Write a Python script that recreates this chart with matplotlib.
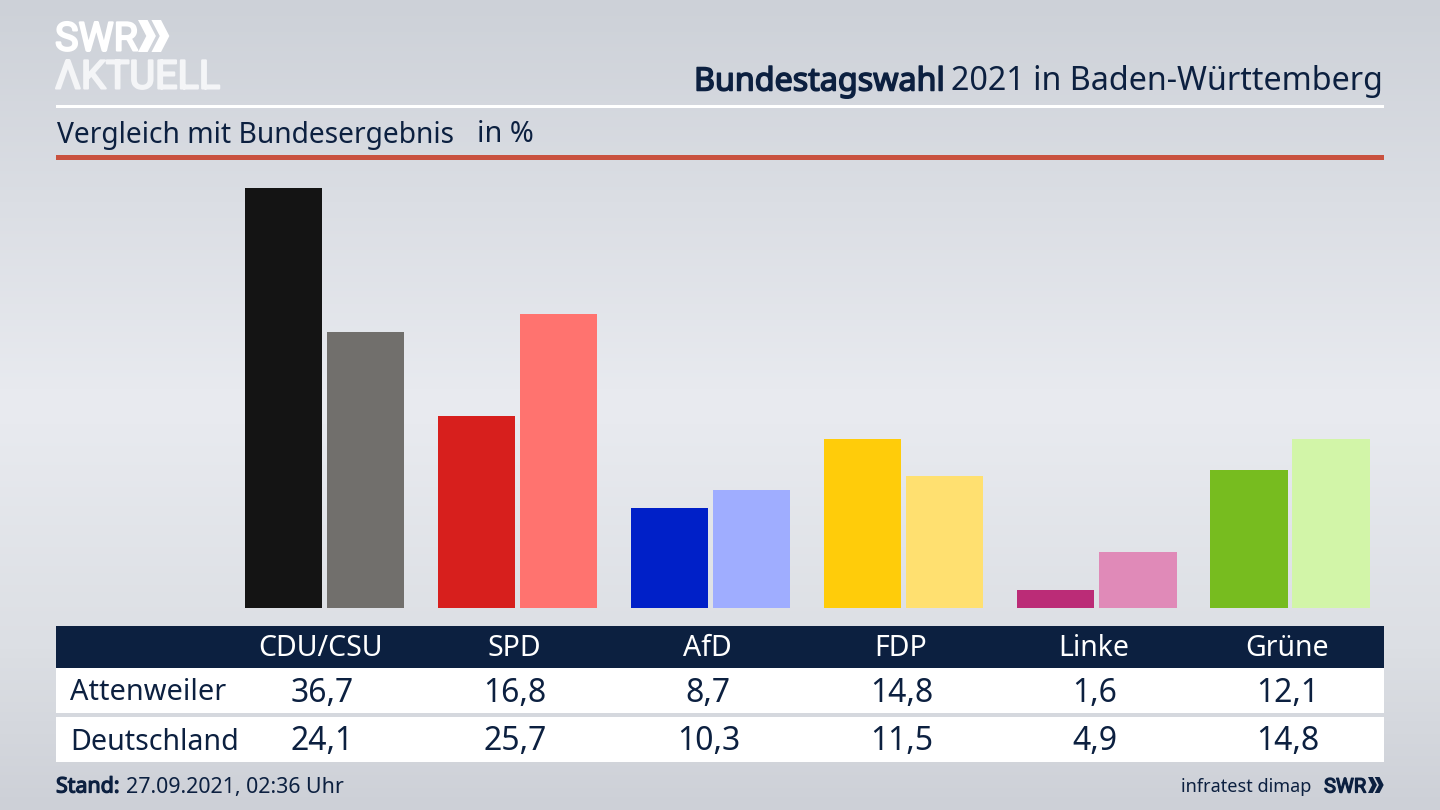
#!/usr/bin/env python3
# -*- coding: utf-8 -*-
import numpy as np
import matplotlib
matplotlib.use("Agg")
import matplotlib.pyplot as plt
import matplotlib.patheffects as pe
from matplotlib.colors import LinearSegmentedColormap
from matplotlib.patches import Polygon, Rectangle

plt.rcParams["font.family"] = ["Noto Sans", "DejaVu Sans"]

parties = ["CDU/CSU", "SPD", "AfD", "FDP", "Linke", "Grüne"]
attenweiler = [36.7, 16.8, 8.7, 14.8, 1.6, 12.1]
deutschland = [24.1, 25.7, 10.3, 11.5, 4.9, 14.8]
colors_local = ["#141414", "#d71f1d", "#0020c8", "#ffcc0a", "#bb2c77", "#77bc1f"]
colors_national = ["#716f6c", "#ff736f", "#9fadff", "#ffe070", "#e08ab8", "#d2f5a8"]

NAVY = "#0c2040"


def comma(v):
    return f"{v:.1f}".replace(".", ",")


def fat(width, color):
    # the installed Noto Sans has no bold cut, so thicken with a stroke
    return [pe.withStroke(linewidth=width, foreground=color)]


def chevrons(ax, x, y, h, color):
    """Two arrow heads of the SWR logo, x/y = top left in pixels."""
    w = h * 0.56
    t = h * 0.3
    for dx in (0, h * 0.42):
        ax.add_patch(Polygon(
            [(x + dx, y), (x + dx + t, y), (x + dx + w, y + h / 2),
             (x + dx + t, y + h), (x + dx, y + h), (x + dx + w - t, y + h / 2)],
            closed=True, color=color, lw=0, zorder=5))


fig = plt.figure(figsize=(14.4, 8.1), dpi=100)

# Background gradient
bg = fig.add_axes([0, 0, 1, 1], zorder=0)
cmap = LinearSegmentedColormap.from_list(
    "bg", [(0, "#cdd1d8"), (0.5, "#e9ebf0"), (0.8, "#dcdfe4"), (1, "#cdd0d7")])
bg.imshow(np.linspace(0, 1, 256).reshape(-1, 1), aspect="auto", cmap=cmap,
          extent=[0, 1440, 810, 0], vmin=0, vmax=1)
bg.set_xlim(0, 1440)
bg.set_ylim(810, 0)
bg.axis("off")

# Header
bg.add_patch(Rectangle((56, 105), 1328, 3, color="white", lw=0))
bg.add_patch(Rectangle((56, 155), 1328, 5, color="#c9513f", lw=0))
bg.text(1383, 82, "2021 in Baden-Württemberg", ha="right", va="center",
        fontsize=23.2, color=NAVY)
bg.text(945, 82, "Bundestagswahl", ha="right", va="center",
        fontsize=23.2, color=NAVY, path_effects=fat(1.1, NAVY))
bg.text(57, 135, "Vergleich mit Bundesergebnis", ha="left", va="center",
        fontsize=20.3, color=NAVY)
bg.text(477, 135, "in %", ha="left", va="center", fontsize=20.8, color=NAVY)

# Logo
bg.text(55, 39, "SWR", ha="left", va="center", fontsize=28.5, color="white",
        family="Roboto", path_effects=fat(1.5, "white"))
chevrons(bg, 138, 20, 32, "white")
bg.text(55, 77, "ΛKTUELL", ha="left", va="center", fontsize=28.5, color="#f4f5f7",
        family="Roboto", path_effects=fat(1.5, "#f4f5f7"))

# Bars
ax = fig.add_axes([228 / 1440, (810 - 608) / 810, (1386.5 - 228) / 1440, 420 / 810], zorder=1)
ax.patch.set_alpha(0)
x = np.arange(len(parties))
ax.bar(x - 0.2125, attenweiler, width=0.4, color=colors_local)
ax.bar(x + 0.2125, deutschland, width=0.4, color=colors_national)
ax.set_xlim(-0.5, 5.5)
ax.set_ylim(0, 36.7)
ax.axis("off")

# Table
bg.add_patch(Rectangle((56, 626), 1328, 42, color=NAVY, lw=0))
bg.add_patch(Rectangle((56, 668), 1328, 45, color="white", lw=0))
bg.add_patch(Rectangle((56, 717), 1328, 45, color="white", lw=0))
bg.text(70, 693, "Attenweiler", va="center", fontsize=20.8, color=NAVY)
bg.text(70, 742, "Deutschland", va="center", fontsize=20.6, color=NAVY)
for i, party in enumerate(parties):
    cx = 321 + 193.2 * i
    bg.text(cx, 649, party, ha="center", va="center", fontsize=20.5, color="white")
    bg.text(cx + 1, 693, comma(attenweiler[i]), ha="center", va="center", fontsize=23, color=NAVY)
    bg.text(cx + 1, 742, comma(deutschland[i]), ha="center", va="center", fontsize=23, color=NAVY)

# Footer
bg.text(56, 787, "Stand:", va="center", fontsize=15.4, color=NAVY, path_effects=fat(0.9, NAVY))
bg.text(126, 787, "27.09.2021, 02:36 Uhr", va="center", fontsize=15.4, color=NAVY)
bg.text(1311, 787, "infratest dimap", ha="right", va="center", fontsize=13, color=NAVY)
bg.text(1324, 787, "SWR", va="center", fontsize=14.5, color=NAVY, family="Roboto",
        path_effects=fat(0.9, NAVY))
chevrons(bg, 1368, 777, 16, NAVY)

fig.savefig("out.png", dpi=100)
